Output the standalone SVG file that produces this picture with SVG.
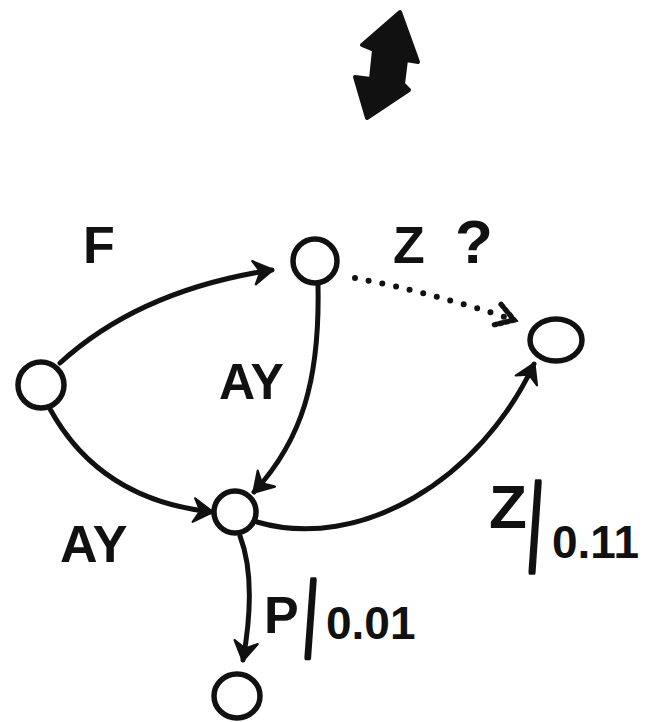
<svg xmlns="http://www.w3.org/2000/svg" width="646" height="722" viewBox="0 0 646 722">
<style>
.node{fill:none;stroke:#111;stroke-width:5.5}
.edge{fill:none;stroke:#111;stroke-width:5;stroke-linecap:round}
.dot{fill:none;stroke:#111;stroke-width:6;stroke-linecap:round;stroke-dasharray:0 14}
.lbl{font-family:"Liberation Sans",Arial,sans-serif;font-weight:bold;fill:#111}
.sl{stroke:#111;stroke-width:4;stroke-linejoin:round}
</style>
<defs>
<marker id="ah" markerUnits="userSpaceOnUse" markerWidth="30" markerHeight="30" viewBox="-20 -14 24 28" refX="0" refY="0" orient="auto">
<path d="M-17,-11 L1,0 L-17,11 L-11,0 Z" fill="#111" stroke="#111" stroke-width="2" stroke-linejoin="round"/>
</marker>
<marker id="ahd" markerUnits="userSpaceOnUse" markerWidth="30" markerHeight="30" viewBox="-20 -14 24 28" refX="0" refY="0" orient="auto">
<path d="M-16,-10 L0,0 L-16,10" fill="none" stroke="#111" stroke-width="5" stroke-dasharray="3 3" stroke-linecap="round"/>
</marker>
</defs>
<g id="symbol">
<path d="M400,12 L418,62 L406,60 L403,84 L409,90 L367,118 L355,77 L371,79 L374,50 L362,45 Z" fill="#111" stroke="#111" stroke-width="4" stroke-linejoin="round"/>
</g>
<g id="connectors">
<path class="edge" d="M60,363 Q140,290 272,270" marker-end="url(#ah)"/>
<path class="edge" d="M318,285 C320,380 302,440 254,492" marker-end="url(#ah)"/>
<path class="edge" d="M50,409 Q100,500 212,512" marker-end="url(#ah)"/>
<path class="edge" d="M257,522 C360,552 480,480 534,364" marker-end="url(#ah)"/>
<path class="edge" d="M240,536 C253,570 251,615 243,660" marker-end="url(#ah)"/>
<path class="dot" d="M355,278 Q430,292 514,320" marker-end="url(#ahd)"/>
</g>
<g id="n_left"><ellipse class="node" cx="41" cy="385" rx="23" ry="23"/></g>
<g id="n_top"><ellipse class="node" cx="315" cy="261" rx="22" ry="22"/></g>
<g id="n_right"><ellipse class="node" cx="556" cy="340" rx="26" ry="21"/></g>
<g id="n_mid"><ellipse class="node" cx="235" cy="512" rx="21" ry="21"/></g>
<g id="n_bottom"><ellipse class="node" cx="237" cy="696" rx="23" ry="22"/></g>
<g id="labels">
<text class="lbl" x="83" y="263" font-size="52">F</text>
<text class="lbl" x="219" y="399" font-size="50">AY</text>
<text class="lbl" x="60" y="562" font-size="52">AY</text>
<text class="lbl" x="393" y="263" font-size="52">Z</text>
<text class="lbl" x="455" y="263" font-size="62">?</text>
<text class="lbl" x="489" y="528" font-size="62">Z</text>
<text class="lbl sl" font-size="80" vector-effect="non-scaling-stroke" transform="translate(529,570) scale(0.55,1.5)">/</text>
<text class="lbl" x="552" y="558" font-size="46">0.11</text>
<text class="lbl" x="264" y="633" font-size="52">P</text>
<text class="lbl sl" font-size="80" vector-effect="non-scaling-stroke" transform="translate(305,655) scale(0.5,1.3)">/</text>
<text class="lbl" x="326" y="639" font-size="46">0.01</text>
</g>
</svg>
